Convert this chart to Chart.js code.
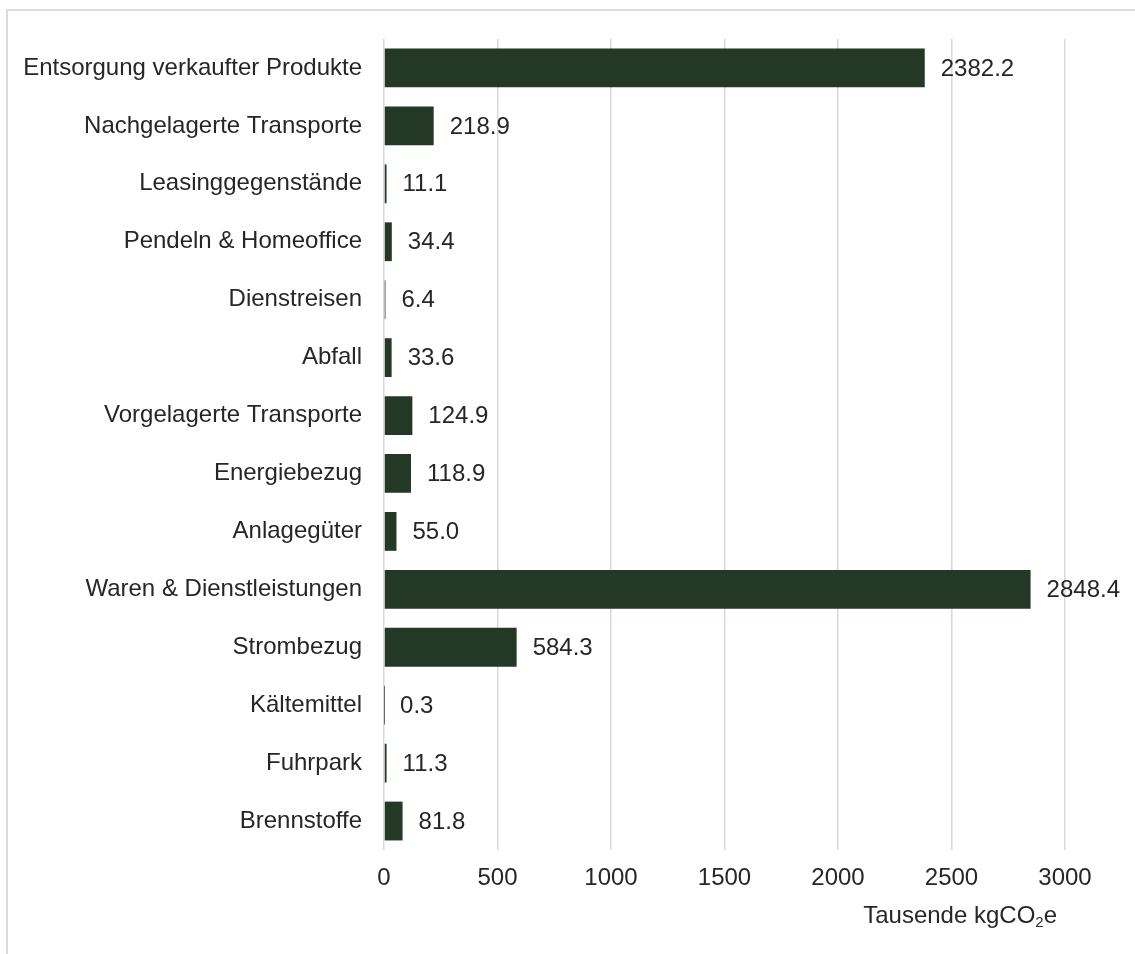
<!DOCTYPE html>
<html>
<head>
<meta charset="utf-8">
<script src="https://cdn.jsdelivr.net/npm/chart.js@4.4.1/dist/chart.umd.min.js"></script>
<style>
  html, body { margin: 0; padding: 0; background: #ffffff; overflow: hidden; }
  #wrap { position: relative; width: 1135px; height: 954px; }
  #frame { position: absolute; left: 6px; top: 9px; width: 1200px; height: 1000px;
           border-top: 2px solid #dcdcdc; border-left: 2px solid #dcdcdc; box-sizing: border-box; }
  canvas { position: absolute; left: 0; top: 0; }
</style>
</head>
<body>
<div id="wrap">
  <div id="frame"></div>
  <canvas id="c" width="1135" height="954"></canvas>
</div>
<script>
const categories = [
  "Entsorgung verkaufter Produkte",
  "Nachgelagerte Transporte",
  "Leasinggegenstände",
  "Pendeln & Homeoffice",
  "Dienstreisen",
  "Abfall",
  "Vorgelagerte Transporte",
  "Energiebezug",
  "Anlagegüter",
  "Waren & Dienstleistungen",
  "Strombezug",
  "Kältemittel",
  "Fuhrpark",
  "Brennstoffe"
];
const values = [2382.2, 218.9, 11.1, 34.4, 6.4, 33.6, 124.9, 118.9, 55.0, 2848.4, 584.3, 0.3, 11.3, 81.8];
const xTicks = [0, 500, 1000, 1500, 2000, 2500, 3000];
const axisTitleMain = "Tausende kgCO";
const axisTitleSub = "2";
const axisTitleEnd = "e";

const FONT = '"Liberation Sans", Arial, sans-serif';
const TEXT = '#262626';

const valueLabels = {
  id: 'valueLabels',
  afterDatasetsDraw(chart) {
    const ctx = chart.ctx;
    const meta = chart.getDatasetMeta(0);
    ctx.save();
    ctx.font = '24px ' + FONT;
    ctx.fillStyle = TEXT;
    ctx.textAlign = 'left';
    ctx.textBaseline = 'middle';
    meta.data.forEach((bar, i) => {
      ctx.fillText(values[i].toFixed(1), bar.x + 16, bar.y + 1);
    });
    ctx.restore();
  }
};

const axisTitle = {
  id: 'axisTitle',
  afterDraw(chart) {
    const ctx = chart.ctx;
    const right = chart.chartArea.right - 8;
    const baseY = 923;
    ctx.save();
    ctx.fillStyle = TEXT;
    ctx.textBaseline = 'alphabetic';
    ctx.textAlign = 'left';
    ctx.font = '24px ' + FONT;
    const wMain = ctx.measureText(axisTitleMain).width;
    const wEnd = ctx.measureText(axisTitleEnd).width;
    ctx.font = '15px ' + FONT;
    const wSub = ctx.measureText(axisTitleSub).width;
    let x = right - wMain - wSub - wEnd;
    ctx.font = '24px ' + FONT;
    ctx.fillText(axisTitleMain, x, baseY);
    x += wMain;
    ctx.font = '15px ' + FONT;
    ctx.fillText(axisTitleSub, x, baseY + 4);
    x += wSub;
    ctx.font = '24px ' + FONT;
    ctx.fillText(axisTitleEnd, x, baseY);
    ctx.restore();
  }
};

new Chart(document.getElementById('c'), {
  type: 'bar',
  data: {
    labels: categories,
    datasets: [{
      data: values,
      backgroundColor: '#243826',
      borderWidth: 0,
      categoryPercentage: 1.0,
      barPercentage: 0.67
    }]
  },
  options: {
    indexAxis: 'y',
    responsive: false,
    animation: false,
    devicePixelRatio: 1,
    layout: { padding: { top: 39, right: 70, left: 0, bottom: 0 } },
    plugins: { legend: { display: false }, tooltip: { enabled: false } },
    scales: {
      x: {
        min: 0, max: 3000,
        afterBuildTicks(scale) { scale.ticks = xTicks.map(v => ({ value: v })); },
        afterFit(scale) { scale.height = 104; },
        grid: { color: '#d9d9d9', lineWidth: 1.5, drawTicks: false },
        border: { display: false },
        ticks: { color: TEXT, font: { family: FONT, size: 24 }, padding: 14, maxRotation: 0,
                 callback: (v) => String(v) }
      },
      y: {
        afterFit(scale) { scale.width = 384; },
        grid: { display: false, drawTicks: false },
        border: { display: false },
        ticks: { color: TEXT, font: { family: FONT, size: 24 }, padding: 22, autoSkip: false }
      }
    }
  },
  plugins: [valueLabels, axisTitle]
});
</script>
</body>
</html>
